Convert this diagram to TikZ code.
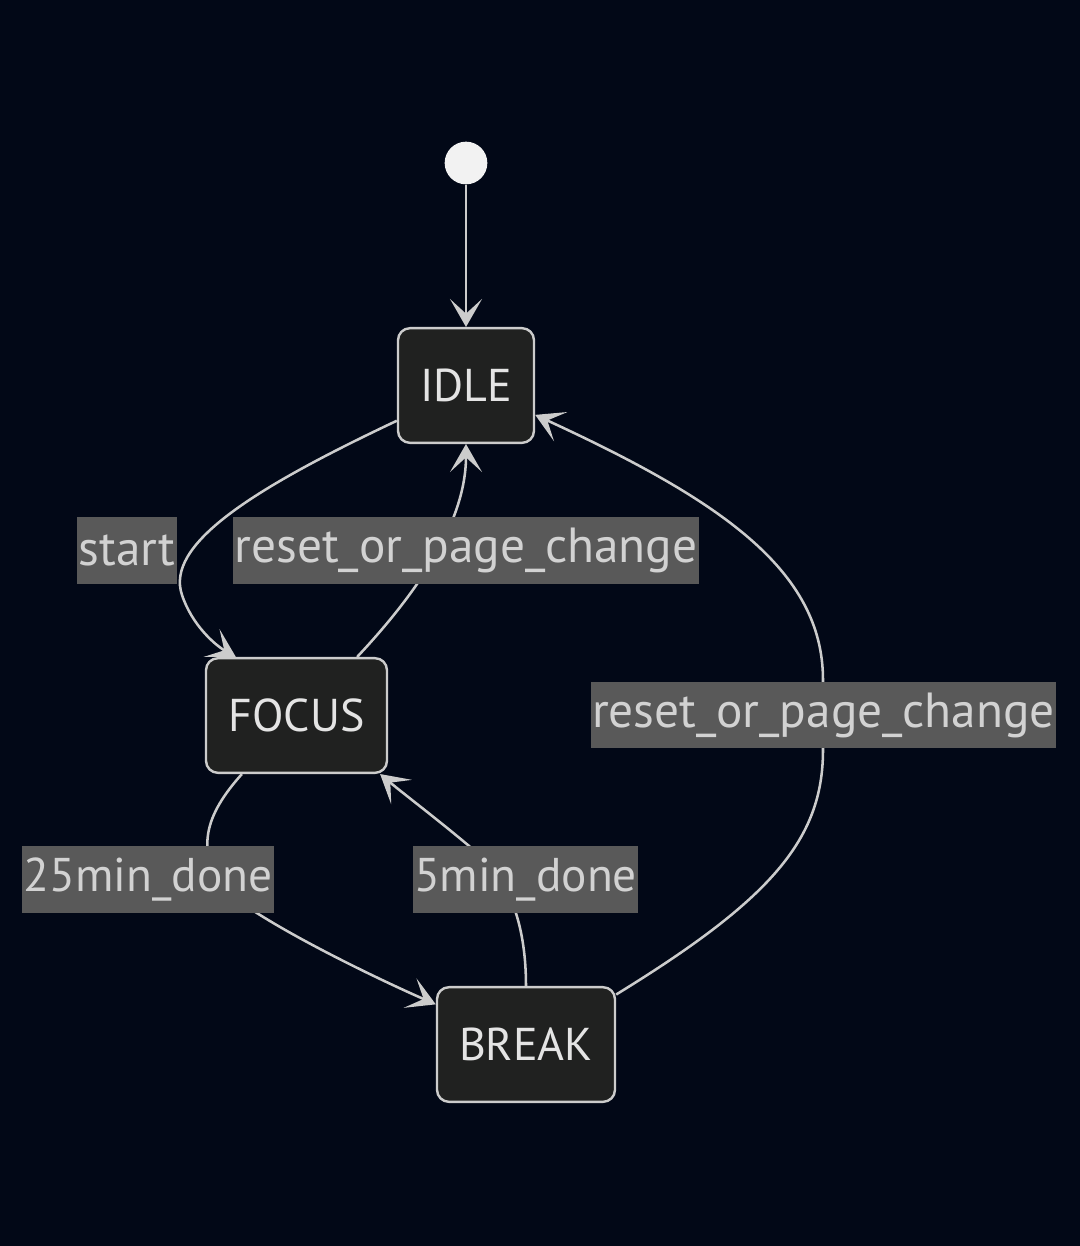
\documentclass[tikz,border=0pt]{standalone}
\usepackage{fontspec}
\setmainfont{PT Sans}
\usetikzlibrary{arrows.meta}
\definecolor{bgc}{RGB}{2,8,23}
\definecolor{nodefill}{RGB}{32,33,32}
\definecolor{linec}{RGB}{204,204,204}
\definecolor{lblfill}{RGB}{89,89,89}
\definecolor{txtc}{RGB}{228,228,228}
\definecolor{lbltxt}{RGB}{210,210,210}
\begin{document}
\begin{tikzpicture}[x=0.75pt,y=-0.75pt,
  state/.style={draw=linec, line width=1.8pt, fill=nodefill, rounded corners=9pt,
     minimum height=86pt, text=txtc, font=\fontsize{34.5}{40}\selectfont, inner sep=0pt},
  lbl/.style={fill=lblfill, text=lbltxt, font=\fontsize{37}{42}\selectfont,
     minimum height=50pt, inner xsep=1pt, inner ysep=0pt},
  edge/.style={draw=linec, line width=1.9pt,
     -{Stealth[length=21pt,width=24pt,inset=11pt]}}]
\fill[bgc] (0,0) rectangle (1080,1246);
\useasboundingbox (0,0) rectangle (1080,1246);

\node[circle, fill=white!95!black, minimum size=32pt, inner sep=0pt] (init) at (466,163) {};
\node[state, minimum width=102pt] (idle) at (466,385.5) {IDLE};
\node[state, minimum width=135.75pt] (focus) at (296.5,715.5) {FOCUS};
\node[state, minimum width=133.5pt] (brk) at (526,1044.5) {BREAK};

\draw[edge] (init) -- (idle);
\draw[edge] (idle.207) .. controls (250,490) and (165,545) .. (182,595)
   .. controls (192,625) and (215,645) .. (focus.136);
\draw[edge] (focus.44) .. controls (420,590) and (466,520) .. (idle.south);
\draw[edge] (brk.29) .. controls (770,900) and (823,840) .. (823,750)
   -- (823,680) .. controls (823,570) and (720,500) .. (idle.-23);
\draw[edge] (focus.227) .. controls (205,815) and (195,850) .. (225,890)
   .. controls (265,925) and (380,980) .. (brk.156);
\draw[edge] (brk.north) .. controls (526,930) and (512,885) .. (482,857)
   .. controls (445,825) and (405,795) .. (focus.325);

\node[lbl, minimum width=73.5pt] (lstart) at (127,550.5) {start};
\node[lbl, minimum width=348pt] (lreset1) at (466,550.5) {reset\_or\_page\_change};
\node[lbl, minimum width=348.75pt] (lreset2) at (823.5,715) {reset\_or\_page\_change};
\node[lbl, minimum width=187.5pt, font=\fontsize{35.5}{42}\selectfont] (l25) at (148,879.5) {25min\_done};
\node[lbl, minimum width=168.75pt, font=\fontsize{35.5}{42}\selectfont] (l5) at (525.5,879.5) {5min\_done};
\end{tikzpicture}
\end{document}
